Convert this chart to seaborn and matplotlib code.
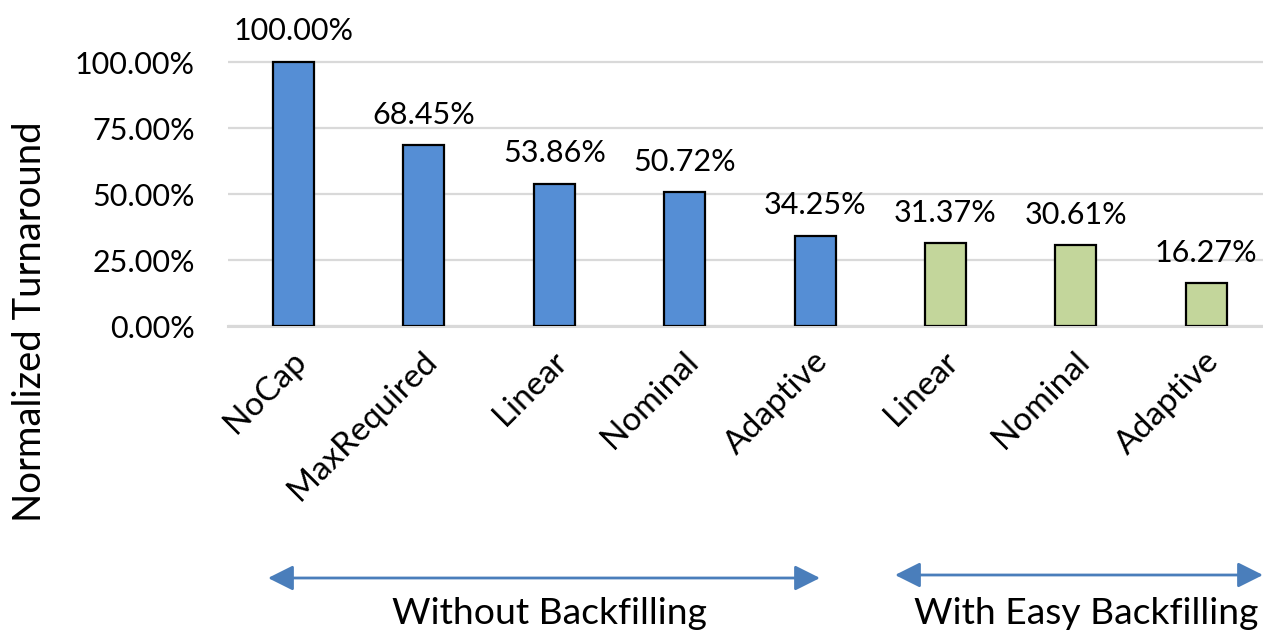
import matplotlib
matplotlib.use("Agg")
import matplotlib.pyplot as plt
from matplotlib.patches import FancyArrowPatch
from matplotlib.ticker import FuncFormatter
import matplotlib.transforms as mtransforms
import seaborn as sns
import pandas as pd

# ---- data ----
policies = ["NoCap", "MaxRequired", "Linear", "Nominal", "Adaptive",
            "Linear", "Nominal", "Adaptive"]
scheduling = ["Without Backfilling"] * 5 + ["With Easy Backfilling"] * 3
turnaround_pct = [100.00, 68.45, 53.86, 50.72, 34.25, 31.37, 30.61, 16.27]
y_ticks = [0, 25, 50, 75, 100]

group_colors = {"Without Backfilling": "#558ED5",
                "With Easy Backfilling": "#C3D69B"}

df = pd.DataFrame({
    "slot": list(range(len(policies))),
    "policy": policies,
    "scheduling": scheduling,
    "turnaround": turnaround_pct,
})

sns.set_theme(style="white")
plt.rcParams["font.family"] = ["Lato", "DejaVu Sans"]

W, H = 1263, 635
fig = plt.figure(figsize=(W / 100, H / 100), dpi=100)


def fx(px):
    return px / W


def fy(py):
    return 1 - py / H


# axes spans categories -0.5..7.5 horizontally, 0..102 vertically
ymax = 102
left_px, right_px = 228.3, 1271.5
bottom_px, top100_px = 326, 62
top_px = bottom_px - (bottom_px - top100_px) * ymax / 100
ax = fig.add_axes([fx(left_px), fy(bottom_px),
                   (right_px - left_px) / W, (bottom_px - top_px) / H])

sns.barplot(data=df, x="slot", y="turnaround", hue="scheduling",
            palette=group_colors, saturation=1, dodge=False, width=0.315,
            edgecolor="black", linewidth=1.6, legend=False, ax=ax,
            zorder=3)

ax.set_xlim(-0.5, len(policies) - 0.5)
ax.set_ylim(0, ymax)
ax.set_yticks(y_ticks)
ax.yaxis.set_major_formatter(FuncFormatter(lambda v, _: f"{v:.2f}%"))
ax.grid(axis="y", color="#D9D9D9", linewidth=1.6, zorder=0)
ax.grid(axis="x", visible=False)
for side in ["top", "right", "left"]:
    ax.spines[side].set_visible(False)
ax.spines["bottom"].set_color("#D9D9D9")
ax.spines["bottom"].set_linewidth(2.2)
ax.set_axisbelow(True)

ax.set_xlabel("")
ax.set_ylabel("")
ax.tick_params(axis="y", length=0, pad=24, labelsize=22, labelcolor="black")
ax.tick_params(axis="x", length=0, pad=22, labelsize=24, labelcolor="black")

ax.set_xticks(df["slot"])
ax.set_xticklabels(policies, rotation=45, ha="right", va="center",
                   rotation_mode="anchor")
shift = mtransforms.ScaledTranslation(6 / 72, 0, fig.dpi_scale_trans)
for lbl in ax.get_xticklabels():
    lbl.set_transform(lbl.get_transform() + shift)

# value labels above bars
for i, v in enumerate(turnaround_pct):
    ax.annotate(f"{v:.2f}%", xy=(i, v), xytext=(0, 15.5),
                textcoords="offset points", ha="center", va="baseline",
                fontsize=22, color="black", annotation_clip=False)

fig.text(fx(30), fy(322), "Normalized Turnaround", rotation=90,
         ha="center", va="center", fontsize=27.5, color="black")

# group brackets under the category labels
arrow_color = "#4A7EBB"
for (x0, x1, ya, xt, yt, label) in [
        (268, 820, 578, 550, 614, "Without Backfilling"),
        (895, 1263, 575, 1086, 614, "With Easy Backfilling")]:
    arr = FancyArrowPatch((fx(x0), fy(ya)), (fx(x1), fy(ya)),
                          transform=fig.transFigure,
                          arrowstyle="<|-|>,head_length=0.7,head_width=0.35",
                          mutation_scale=22, color=arrow_color, lw=2,
                          shrinkA=0, shrinkB=0)
    fig.add_artist(arr)
    fig.text(fx(xt), fy(yt), label, ha="center", va="center",
             fontsize=26.8, color="black")

fig.savefig("out.png", dpi=100)
